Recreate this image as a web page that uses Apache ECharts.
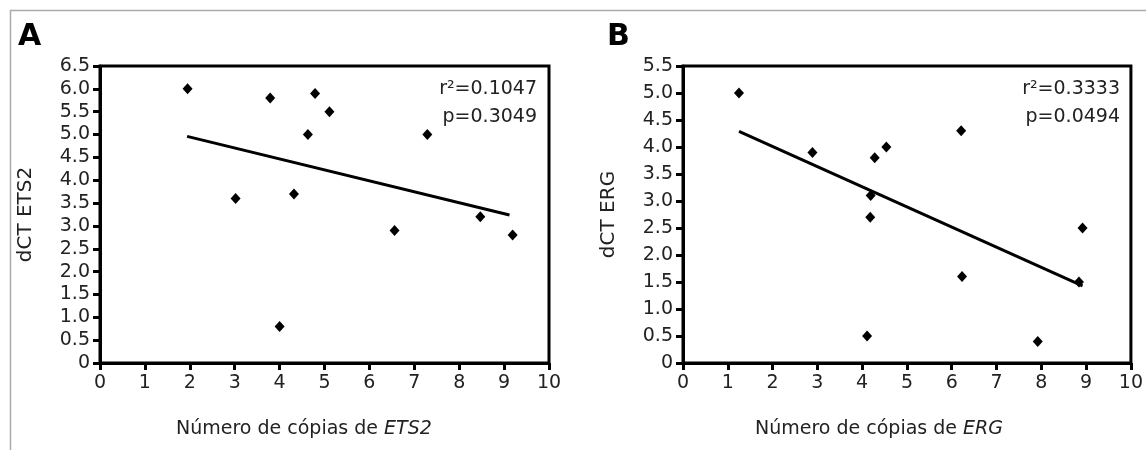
<!DOCTYPE html>
<html>
<head>
<meta charset="utf-8">
<script src="https://cdn.jsdelivr.net/npm/echarts@6/dist/echarts.min.js"></script>
<style>
  html, body { margin: 0; padding: 0; background: #fff; }
  #main { width: 1146px; height: 450px; }
</style>
</head>
<body>
<div id="main"></div>
<script>
// painel A: ETS2
var pontosA = [
    [1.95, 6.0], [3.79, 5.8], [4.79, 5.9], [5.11, 5.5], [4.63, 5.0], [7.29, 5.0],
    [3.02, 3.6], [4.32, 3.7], [8.47, 3.2], [4.0, 0.8], [6.56, 2.9], [9.19, 2.8]
];
var retaA = [[1.94, 4.96], [9.12, 3.24]];
// painel B: ERG
var pontosB = [
    [1.25, 5.0], [2.89, 3.9], [4.28, 3.8], [4.54, 4.0], [6.21, 4.3], [4.19, 3.1],
    [4.18, 2.7], [8.92, 2.5], [6.23, 1.6], [8.84, 1.5], [4.11, 0.5], [7.92, 0.4]
];
var retaB = [[1.25, 4.29], [8.92, 1.43]];

var statsA = ['r²=0.1047', 'p=0.3049'];
var statsB = ['r²=0.3333', 'p=0.0494'];
var maxYA = 6.5, maxYB = 5.5;

var fonte = 'DejaVu Sans';
var corTexto = '#222';

var myChart = echarts.init(document.getElementById('main'));

function eixoX(idx) {
    return {
        type: 'value', gridIndex: idx, min: 0, max: 10, interval: 1,
        splitLine: { show: false },
        axisLine: { show: true, onZero: false, lineStyle: { color: '#000', width: 3 } },
        axisTick: { show: true, length: 7, lineStyle: { color: '#000', width: 3 } },
        axisLabel: { fontFamily: fonte, fontSize: 19, color: corTexto, margin: 11 }
    };
}

function eixoY(idx, nome, max) {
    return {
        type: 'value', gridIndex: idx, min: 0, max: max, interval: 0.5,
        name: nome, nameLocation: 'middle', nameGap: 64,
        nameTextStyle: { fontFamily: fonte, fontSize: 20, color: corTexto },
        splitLine: { show: false },
        axisLine: { show: true, onZero: false, lineStyle: { color: '#000', width: 3 } },
        axisTick: { show: true, length: 7, lineStyle: { color: '#000', width: 3 } },
        axisLabel: {
            fontFamily: fonte, fontSize: 19, color: corTexto, margin: 10,
            formatter: function (v) { return v === 0 ? '0' : v.toFixed(1); }
        }
    };
}

// nome do eixo x com o gene em itálico
function nomeX(x, gene) {
    return {
        type: 'text', left: x, top: 420,
        style: {
            text: 'Número de cópias de {i|' + gene + '}',
            font: '19px "DejaVu Sans"', fill: corTexto,
            rich: { i: { fontFamily: fonte, fontSize: 19, fontStyle: 'italic', color: corTexto } }
        }
    };
}

function textoStats(x, linhas) {
    return [
        { type: 'text', right: 1146 - x, top: 80, style: { text: linhas[0], font: '19px "DejaVu Sans"', fill: corTexto, align: 'right' } },
        { type: 'text', right: 1146 - x, top: 108, style: { text: linhas[1], font: '19px "DejaVu Sans"', fill: corTexto, align: 'right' } }
    ];
}

var option = {
    backgroundColor: '#fff',
    animation: false,
    grid: [
        { left: 100, top: 66, width: 449, height: 297, show: true, borderColor: '#000', borderWidth: 3 },
        { left: 683, top: 66, width: 448, height: 297, show: true, borderColor: '#000', borderWidth: 3 }
    ],
    xAxis: [eixoX(0), eixoX(1)],
    yAxis: [eixoY(0, 'dCT ETS2', maxYA), eixoY(1, 'dCT ERG', maxYB)],
    graphic: [
        // moldura cinza
        { type: 'polyline', shape: { points: [[10.5, 450], [10.5, 10.5], [1146, 10.5]] }, style: { stroke: '#aaa', lineWidth: 1.5, fill: null } },
        { type: 'text', left: 18, top: 22, style: { text: 'A', font: 'bold 30px "DejaVu Sans"', fill: '#000' } },
        { type: 'text', left: 607, top: 22, style: { text: 'B', font: 'bold 30px "DejaVu Sans"', fill: '#000' } },
        nomeX(176, 'ETS2'),
        nomeX(755, 'ERG')
    ].concat(textoStats(537, statsA), textoStats(1120, statsB)),
    series: [
        { type: 'scatter', xAxisIndex: 0, yAxisIndex: 0, data: pontosA, symbol: 'diamond', symbolSize: [10, 11], itemStyle: { color: '#000', opacity: 1 } },
        { type: 'line', xAxisIndex: 0, yAxisIndex: 0, data: retaA, showSymbol: false, lineStyle: { color: '#000', width: 3 } },
        { type: 'scatter', xAxisIndex: 1, yAxisIndex: 1, data: pontosB, symbol: 'diamond', symbolSize: [10, 11], itemStyle: { color: '#000', opacity: 1 } },
        { type: 'line', xAxisIndex: 1, yAxisIndex: 1, data: retaB, showSymbol: false, lineStyle: { color: '#000', width: 3 } }
    ]
};

myChart.setOption(option);
</script>
</body>
</html>
